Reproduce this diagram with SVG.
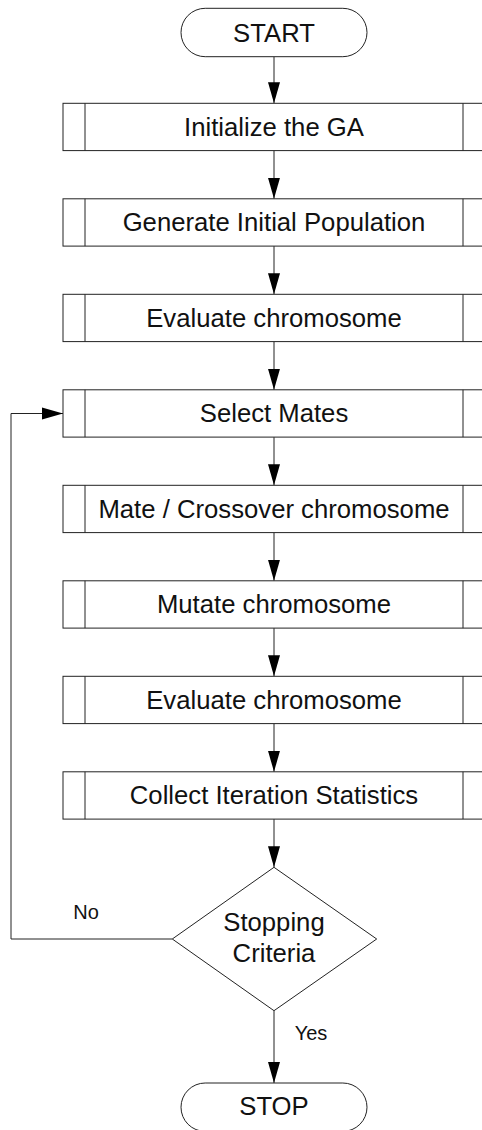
<svg xmlns="http://www.w3.org/2000/svg" width="482" height="1130" viewBox="0 0 482 1130">
  <defs>
    <marker id="arrow" markerUnits="userSpaceOnUse" markerWidth="22" markerHeight="14" refX="21" refY="6.5" orient="auto">
      <path d="M0,0.5 L21,6.5 L0,12.5 Z" fill="#000"/>
    </marker>
    <style>
      .shape { fill: #fff; stroke: #222; stroke-width: 1; }
      .bar { stroke: #222; stroke-width: 1; }
      .edge { fill: none; stroke: #222; stroke-width: 1; marker-end: url(#arrow); }
      .line { fill: none; stroke: #222; stroke-width: 1; }
      text { font-family: "Liberation Sans", Arial, sans-serif; fill: #111; }
      .lbl { font-size: 25.7px; text-anchor: middle; }
      .small { font-size: 20px; text-anchor: middle; }
    </style>
  </defs>
  <rect width="482" height="1130" fill="#fff"/>

  <g id="connectors">
    <line class="edge" x1="274" y1="56.7" x2="274" y2="103.3"/>
    <line class="edge" x1="274" y1="150.6" x2="274" y2="198.8"/>
    <line class="edge" x1="274" y1="246.1" x2="274" y2="294.3"/>
    <line class="edge" x1="274" y1="341.6" x2="274" y2="389.8"/>
    <line class="edge" x1="274" y1="437.1" x2="274" y2="485.3"/>
    <line class="edge" x1="274" y1="532.6" x2="274" y2="580.8"/>
    <line class="edge" x1="274" y1="628.1" x2="274" y2="676.3"/>
    <line class="edge" x1="274" y1="723.6" x2="274" y2="771.8"/>
    <line class="edge" x1="274" y1="819.1" x2="274" y2="867.3"/>
    <polyline class="edge" points="172.3,939 11,939 11,413.5 63,413.5"/>
    <line class="edge" x1="274" y1="1010.7" x2="274" y2="1083"/>
    <text class="small" x="86" y="919">No</text>
    <text class="small" x="311" y="1040">Yes</text>
  </g>

  <g id="start">
    <rect class="shape" x="181" y="8.3" width="186" height="48.4" rx="24.2" ry="24.2"/>
    <text class="lbl" x="274" y="41.5">START</text>
  </g>

  <g id="init">
    <rect class="shape" x="63" y="103.3" width="422" height="47.3"/>
    <line class="bar" x1="85" y1="103.3" x2="85" y2="150.6"/>
    <line class="bar" x1="463" y1="103.3" x2="463" y2="150.6"/>
    <text class="lbl" x="274" y="135.7">Initialize the GA</text>
  </g>

  <g id="generate">
    <rect class="shape" x="63" y="198.8" width="422" height="47.3"/>
    <line class="bar" x1="85" y1="198.8" x2="85" y2="246.1"/>
    <line class="bar" x1="463" y1="198.8" x2="463" y2="246.1"/>
    <text class="lbl" x="274" y="231.2">Generate Initial Population</text>
  </g>

  <g id="evaluate1">
    <rect class="shape" x="63" y="294.3" width="422" height="47.3"/>
    <line class="bar" x1="85" y1="294.3" x2="85" y2="341.6"/>
    <line class="bar" x1="463" y1="294.3" x2="463" y2="341.6"/>
    <text class="lbl" x="274" y="326.7">Evaluate chromosome</text>
  </g>

  <g id="select">
    <rect class="shape" x="63" y="389.8" width="422" height="47.3"/>
    <line class="bar" x1="85" y1="389.8" x2="85" y2="437.1"/>
    <line class="bar" x1="463" y1="389.8" x2="463" y2="437.1"/>
    <text class="lbl" x="274" y="422.2">Select Mates</text>
  </g>

  <g id="crossover">
    <rect class="shape" x="63" y="485.3" width="422" height="47.3"/>
    <line class="bar" x1="85" y1="485.3" x2="85" y2="532.6"/>
    <line class="bar" x1="463" y1="485.3" x2="463" y2="532.6"/>
    <text class="lbl" x="274" y="517.7">Mate / Crossover chromosome</text>
  </g>

  <g id="mutate">
    <rect class="shape" x="63" y="580.8" width="422" height="47.3"/>
    <line class="bar" x1="85" y1="580.8" x2="85" y2="628.1"/>
    <line class="bar" x1="463" y1="580.8" x2="463" y2="628.1"/>
    <text class="lbl" x="274" y="613.2">Mutate chromosome</text>
  </g>

  <g id="evaluate2">
    <rect class="shape" x="63" y="676.3" width="422" height="47.3"/>
    <line class="bar" x1="85" y1="676.3" x2="85" y2="723.6"/>
    <line class="bar" x1="463" y1="676.3" x2="463" y2="723.6"/>
    <text class="lbl" x="274" y="708.7">Evaluate chromosome</text>
  </g>

  <g id="statistics">
    <rect class="shape" x="63" y="771.8" width="422" height="47.3"/>
    <line class="bar" x1="85" y1="771.8" x2="85" y2="819.1"/>
    <line class="bar" x1="463" y1="771.8" x2="463" y2="819.1"/>
    <text class="lbl" x="274" y="804.2">Collect Iteration Statistics</text>
  </g>

  <g id="decision">
    <polygon class="shape" points="274,867.3 376.7,939 274,1010.7 172.3,939"/>
    <text class="lbl" x="274" y="931">Stopping</text>
    <text class="lbl" x="274" y="962">Criteria</text>
  </g>

  <g id="stop">
    <rect class="shape" x="181" y="1083" width="186" height="48.4" rx="24.2" ry="24.2"/>
    <text class="lbl" x="274" y="1115">STOP</text>
  </g>
</svg>
